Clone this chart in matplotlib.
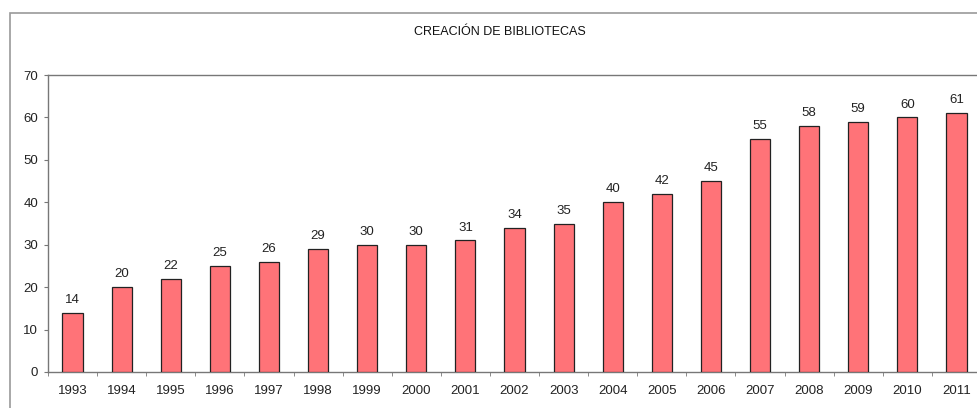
import matplotlib
matplotlib.use("Agg")
import matplotlib.pyplot as plt
import matplotlib.patches as mpatches
import numpy as np

plt.rcParams["font.family"] = ["Liberation Sans", "DejaVu Sans"]

# ── data ──────────────────────────────────────────────────────────────────────
years = ["1993", "1994", "1995", "1996", "1997", "1998", "1999", "2000", "2001",
         "2002", "2003", "2004", "2005", "2006", "2007", "2008", "2009", "2010",
         "2011"]
libraries = [14, 20, 22, 25, 26, 29, 30, 30, 31, 34, 35, 40, 42, 45, 55, 58, 59,
             60, 61]
title = "CREACIÓN DE BIBLIOTECAS"

W, H = 977, 408
fig = plt.figure(figsize=(W / 100, H / 100), dpi=100)

# outer chart border (runs off the right side, like the cropped original)
border = mpatches.Rectangle((10 / W, -0.02), 1.0, (H - 13) / H + 0.02,
                            transform=fig.transFigure, fill=False,
                            edgecolor="#9a9a9a", linewidth=1.2)
fig.patches.append(border)

# plot area: left at x=48, top y=75, bottom y=372
ax = fig.add_axes([48 / W, (H - 372) / H, 933 / W, 297 / H])

x = np.arange(len(years))
ax.bar(x, libraries, width=0.41, color="#ff7378",
       edgecolor="#222222", linewidth=0.9, zorder=3)

for xi, v in zip(x, libraries):
    ax.text(xi, v + 1.6, str(v), ha="center", va="bottom", fontsize=9.5,
            color="#222222")

ax.set_xlim(-0.5, len(years) - 0.5)
ax.set_ylim(0, 70)
ax.set_yticks(range(0, 71, 10))
ax.set_xticks(x)
ax.set_xticklabels(years)
ax.set_xticks(np.arange(-0.5, len(years), 1), minor=True)
ax.tick_params(axis="x", which="major", length=0, labelsize=9.5, pad=9,
               labelcolor="#222222")
ax.tick_params(axis="x", which="minor", length=3, color="#777777")
ax.tick_params(axis="y", length=3, labelsize=9.5, color="#777777", pad=4,
               labelcolor="#222222")

for side in ["left", "bottom", "top"]:
    ax.spines[side].set_color("#777777")
    ax.spines[side].set_linewidth(1.0)
ax.spines["right"].set_visible(False)

fig.text(500 / W, 1 - 32 / H, title, ha="center", va="center", fontsize=9,
         color="#111111")

fig.savefig("out.png", dpi=100)
